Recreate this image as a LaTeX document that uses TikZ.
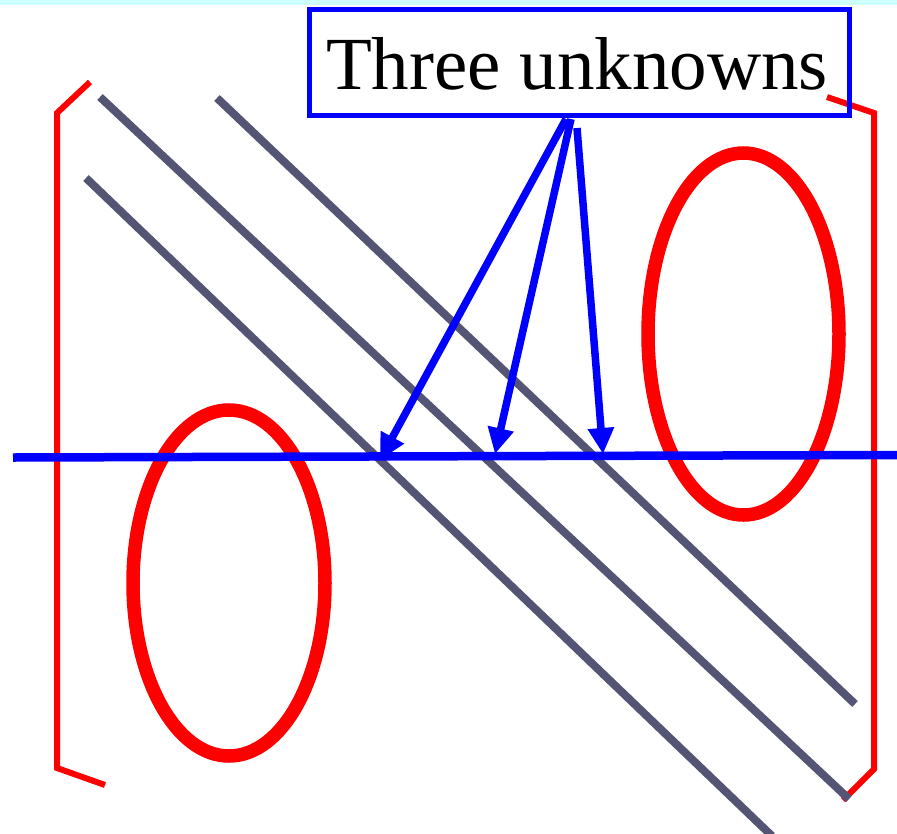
\documentclass[tikz,border=0pt]{standalone}
\usepackage{fontspec}
\setmainfont{Liberation Serif}
\usetikzlibrary{arrows.meta}
\definecolor{stripcyan}{RGB}{204,255,255}
\definecolor{slate}{RGB}{84,84,116}
\tikzset{
  bracketline/.style={draw=red, line width=6pt, line join=miter},
  diagline/.style={draw=slate, line width=8pt},
  redoval/.style={draw=red, line width=13.5pt},
  bluearrow/.style={draw=blue, line width=7.5pt, -{Triangle[length=26pt,width=25pt]}},
}
\begin{document}
\begin{tikzpicture}[x=1pt,y=-1pt]
\useasboundingbox (0,0) rectangle (897,833);
\fill[stripcyan] (0,0) rectangle (897,5);
% brackets
\draw[bracketline] (90,82) -- (57,113) -- (57,768) -- (105,785);
\draw[bracketline] (827,97) -- (874,113) -- (874,769) -- (843,800);
% diagonal lines
\draw[diagline] (100,97) -- (849,799);
\draw[diagline] (86,178) -- (772,836);
\draw[diagline] (217,98) -- (855,704);
% ellipses
\draw[redoval] (229,583) ellipse [x radius=96, y radius=173];
\draw[redoval] (743.5,334) ellipse [x radius=95.5, y radius=181];
% horizontal line
\coordinate (hl) at (13,457.5);
\coordinate (hr) at (897,455);
\draw[blue, line width=8.5pt] (hl) -- (hr);
% box
\node[draw=blue, line width=5pt, minimum width=540pt, minimum height=106pt, inner sep=0pt] (box) at (579.5,62.5) {};
\node[font=\fontsize{75}{80}\selectfont, inner sep=0pt] (lbl) at (577,64) {Three unknowns};
% arrows
\coordinate (s1) at (566,119);
\coordinate (s2) at (571,119);
\coordinate (s3) at (577,128);
\coordinate (t1) at (380,460);
\coordinate (t2) at (495,454);
\coordinate (t3) at (603,454);
\draw[bluearrow] (s1) -- (t1);
\draw[bluearrow] (s2) -- (t2);
\draw[bluearrow] (s3) -- (t3);
\end{tikzpicture}
\end{document}
